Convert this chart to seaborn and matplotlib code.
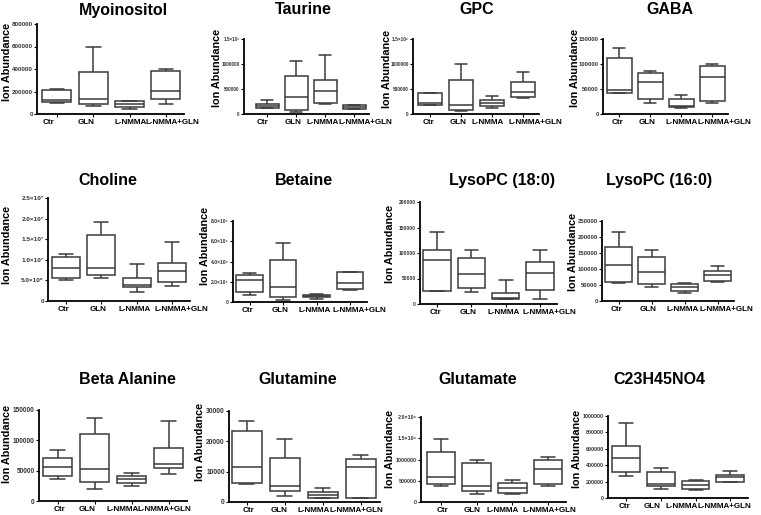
import numpy as np
import pandas as pd
import seaborn as sns
import matplotlib.pyplot as plt
from matplotlib.transforms import ScaledTranslation

groups = ["Ctr", "GLN", "L-NMMA", "L-NMMA+GLN"]

# five-number summaries per group: min, q1, median, q3, max
myoinositol = [[96000, 104000, 128000, 209000, 218000],
               [75000, 87000, 134000, 370000, 594000],
               [48000, 60000, 90000, 113000, 116000],
               [90000, 131000, 206000, 379000, 403000]]
taurine = [[115000, 120000, 160000, 200000, 287000],
           [47000, 73000, 340000, 760000, 1053000],
           [207000, 220000, 453000, 687000, 1180000],
           [93000, 100000, 140000, 187000, 190000]]
gpc = [[180000, 187000, 213000, 413000, 415000],
       [53000, 87000, 187000, 673000, 1000000],
       [120000, 153000, 220000, 287000, 353000],
       [320000, 333000, 440000, 647000, 833000]]
gaba = [[42000, 42000, 49000, 113000, 133000],
        [22000, 31000, 65000, 83000, 87000],
        [13000, 14000, 17000, 31000, 38000],
        [23000, 27000, 75000, 97000, 101000]]
choline = [[5.0e6, 5.6e6, 8.0e6, 1.07e7, 1.13e7],
           [5.6e6, 6.4e6, 8.0e6, 1.59e7, 1.92e7],
           [2.2e6, 3.3e6, 4.0e6, 5.6e6, 9.1e6],
           [3.6e6, 4.6e6, 7.3e6, 9.2e6, 1.42e7]]
betaine = [[0.72e6, 0.95e6, 2.2e6, 2.66e6, 2.9e6],
           [0.23e6, 0.5e6, 1.44e6, 4.1e6, 5.87e6],
           [0.3e6, 0.5e6, 0.62e6, 0.72e6, 0.82e6],
           [1.2e6, 1.25e6, 1.87e6, 2.95e6, 2.95e6]]
lysopc_18 = [[25000, 25000, 87000, 106000, 141000],
             [23000, 31000, 58000, 91000, 106000],
             [9000, 10000, 12000, 22000, 48000],
             [10000, 27000, 61000, 82000, 105000]]
lysopc_16 = [[57000, 60000, 114000, 168000, 215000],
             [45000, 52000, 92000, 139000, 158000],
             [25000, 30000, 44000, 53000, 56000],
             [60000, 64000, 82000, 93000, 109000]]
beta_alanine = [[37000, 42000, 56600, 71000, 84000],
                [20000, 32000, 53000, 111000, 136000],
                [25000, 29700, 35700, 40700, 45600],
                [44000, 54000, 61000, 88000, 132000]]
glutamine = [[6000, 6400, 11400, 23500, 26700],
             [2100, 3500, 5200, 14400, 20700],
             [1200, 1400, 2400, 3400, 4500],
             [1300, 1400, 11600, 14100, 15500]]
glutamate = [[3.7e5, 4.2e5, 6.0e5, 1.17e6, 1.48e6],
             [2.0e5, 2.7e5, 3.8e5, 9.1e5, 1.0e6],
             [2.0e5, 2.2e5, 3.3e5, 4.5e5, 5.1e5],
             [3.8e5, 4.3e5, 7.8e5, 9.9e5, 1.06e6]]
c23h45no4 = [[269000, 314000, 486000, 633000, 910000],
             [114000, 143000, 171000, 322000, 371000],
             [94000, 106000, 163000, 212000, 220000],
             [192000, 200000, 253000, 286000, 335000]]

titles = ["Myoinositol", "Taurine", "GPC", "GABA",
          "Choline", "Betaine", "LysoPC (18:0)", "LysoPC (16:0)",
          "Beta Alanine", "Glutamine", "Glutamate", "C23H45NO4"]
values = [myoinositol, taurine, gpc, gaba, choline, betaine,
          lysopc_18, lysopc_16, beta_alanine, glutamine, glutamate, c23h45no4]

# y ticks and their labels per panel
yticks = [[0, 2e5, 4e5, 6e5, 8e5],
          [0, 5e5, 1e6, 1.5e6],
          [0, 5e5, 1e6, 1.5e6],
          [0, 5e4, 1e5, 1.5e5],
          [0, 5e6, 1e7, 1.5e7, 2e7, 2.5e7],
          [0, 2e6, 4e6, 6e6, 8e6],
          [0, 5e4, 1e5, 1.5e5, 2e5],
          [0, 5e4, 1e5, 1.5e5, 2e5, 2.5e5],
          [0, 5e4, 1e5, 1.5e5],
          [0, 1e4, 2e4, 3e4],
          [0, 5e5, 1e6, 1.5e6, 2e6],
          [0, 2e5, 4e5, 6e5, 8e5, 1e6]]
yticklabels = [["0", "200000", "400000", "600000", "800000"],
               ["0", "500000", "1000000", "1.5×10⁶"],
               ["0", "500000", "1000000", "1.5×10⁶"],
               ["0", "50000", "100000", "150000"],
               ["0", "5.0×10⁶", "1.0×10⁷", "1.5×10⁷", "2.0×10⁷", "2.5×10⁷"],
               ["0", "2.0×10⁶", "4.0×10⁶", "6.0×10⁶", "8.0×10⁶"],
               ["0", "50000", "100000", "150000", "200000"],
               ["0", "50000", "100000", "150000", "200000", "250000"],
               ["0", "50000", "100000", "150000"],
               ["0", "10000", "20000", "30000"],
               ["0", "500000", "1000000", "1.5×10⁶", "2.0×10⁶"],
               ["0", "200000", "400000", "600000", "800000", "1000000"]]

# layout in pixels: axis x, category spacing, top, bottom, left xlim
layout = [(37, 36.3, 24, 114, -0.55), (244, 29, 39, 114, -0.8),
          (413, 31, 39, 114, -0.55), (603, 31, 39, 114, -0.52),
          (48, 35.5, 198, 301, -0.5), (233, 33.4, 221, 302, -0.5),
          (420, 34.3, 202, 304, -0.5), (602, 33, 221, 301, -0.5),
          (39, 37, 410, 501, -0.5), (229, 38, 411, 502, -0.47),
          (421, 35.7, 417, 502, -0.56), (608, 35, 416, 498, -0.5)]
title_pos = [(123, 11), (303, 10), (477, 10), (670, 10),
             (108, 180), (304, 180), (502, 180), (659, 180),
             (127, 380), (298, 380), (478, 380), (659, 380)]
ylabel_pos = [(7, 62), (217, 68), (387, 69), (575, 68),
              (7, 245), (205, 246), (390, 244), (573, 252),
              (7, 444), (200, 442), (390, 449), (577, 449)]
ytick_size = [4.5, 3.3, 3.4, 4.2, 4.6, 3.6, 3.6, 4.3, 4.7, 4.8, 3.9, 3.9]
# horizontal nudge of each group label (pixels) relative to its box
label_shift = [(-8, -7, 1, 7), (-5, -3, -3, 11), (-2, -3, -4, 12), (-2, -3, 1, 12),
               (-2, -3, -2, 9), (-2, -3, -2, 9), (-2, -3, -2, 9), (-2, -3, -2, 9),
               (2, -7, -9, -4), (2, -6, -9, -4), (2, -5, -10, 1), (-1, -8, -14, -6)]

sns.set_style("ticks")
plt.rcParams['font.family'] = ['Liberation Sans', 'DejaVu Sans']
plt.rcParams['font.weight'] = 'bold'
for key in ['text.color', 'axes.labelcolor', 'xtick.color', 'ytick.color']:
    plt.rcParams[key] = 'black'

W, H = 761, 515
fig = plt.figure(figsize=(W / 100, H / 100), dpi=100)
line_c = "#3a3a3a"

for i in range(12):
    x0, sp, top, bot, xl = layout[i]
    width = (3.5 - xl) * sp
    ax = fig.add_axes([x0 / W, 1 - bot / H, width / W, (bot - top) / H])

    df = pd.DataFrame([(g, v) for g, vals in zip(groups, values[i]) for v in vals],
                      columns=["group", "value"])
    sns.boxplot(data=df, x="group", y="value", order=groups, whis=(0, 100),
                color="white", linecolor=line_c, linewidth=1.1, width=0.8,
                showfliers=False, ax=ax)

    ax.set_xlim(xl, 3.5)
    ax.set_ylim(0, yticks[i][-1])
    ax.set_yticks(yticks[i])
    ax.set_yticklabels(yticklabels[i], fontsize=ytick_size[i],
                       fontweight='bold', color="#333333")
    ax.set_xticks(range(4))
    ax.set_xticklabels(groups, fontsize=5.8, fontweight='bold')
    ax.tick_params(axis='x', length=2, width=0.8, pad=1.5)
    ax.tick_params(axis='y', length=2, width=0.8, pad=1)
    for tick, dx in zip(ax.xaxis.get_major_ticks(), label_shift[i]):
        lab = tick.label1
        lab.set_transform(lab.get_transform()
                          + ScaledTranslation(dx / 100, 0, fig.dpi_scale_trans))
    ax.set_xlabel("")
    ax.set_ylabel("Ion Abundance", fontsize=7.8, fontweight='bold')
    lx, ly = ylabel_pos[i]
    ax.yaxis.set_label_coords(lx / W, 1 - ly / H, transform=fig.transFigure)
    ax.yaxis.label.set_va("center")
    sns.despine(ax=ax)
    for s in ["left", "bottom"]:
        ax.spines[s].set_linewidth(1.3)
        ax.spines[s].set_color("black")

    tx, ty = title_pos[i]
    fig.text(tx / W, 1 - ty / H, titles[i], ha="center", va="center",
             fontsize=11.5, fontweight='bold')

fig.savefig("out.png", dpi=100)
